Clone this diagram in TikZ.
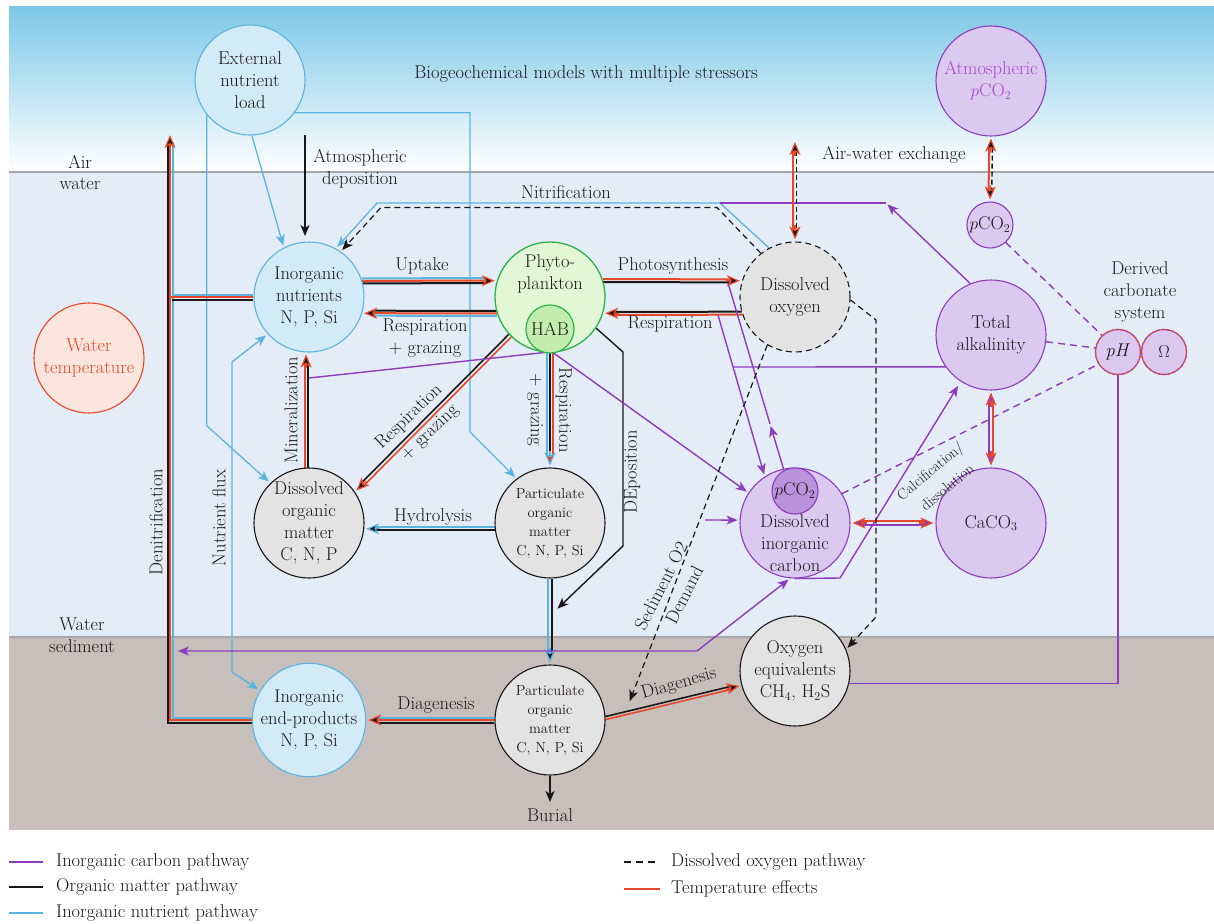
\documentclass[tikz,border=0pt]{standalone}
\usetikzlibrary{arrows.meta,calc}
\pgfdeclarelayer{bg}
\pgfdeclarelayer{lines}
\pgfsetlayers{bg,lines,main}
\definecolor{skyc}{HTML}{7DC8E7}
\definecolor{waterc}{HTML}{E4ECF7}
\definecolor{sedc}{HTML}{C7BFBC}
\definecolor{sepc}{HTML}{A6A6A6}
\definecolor{nb}{HTML}{5BB4E0}
\definecolor{nfill}{HTML}{D3EAF7}
\definecolor{rd}{HTML}{E8482A}
\definecolor{pu}{HTML}{8E3CBE}
\definecolor{pfill}{HTML}{DCC9F0}
\definecolor{pdark}{HTML}{B993DC}
\definecolor{ptext}{HTML}{A548C9}
\definecolor{gfill}{HTML}{E3E3E3}
\definecolor{grn}{HTML}{2CB34A}
\definecolor{grnfill}{HTML}{E1F7D5}
\definecolor{habfill}{HTML}{C3EDAC}
\definecolor{wtfill}{HTML}{FCE5DC}
\definecolor{blk}{HTML}{1A1718}
\newcommand{\fs}{\fontsize{18.5}{22}\selectfont}
\newcommand{\fss}{\fontsize{14.5}{19}\selectfont}
\newcommand{\fsm}{\fontsize{15}{17}\selectfont}
\newcommand{\offL}[4]{\draw[#1] ($(#2)!#4!90:(#3)$) -- ($(#3)!#4!-90:(#2)$);}
\newcommand{\offR}[4]{\draw[#1] ($(#2)!#4!-90:(#3)$) -- ($(#3)!#4!90:(#2)$);}
\newcommand{\tipto}[3]{\draw[#1] ($(#3)!16pt!(#2)$) -- (#3);}
\begin{document}
\begin{tikzpicture}[x=1pt,y=-1pt,font=\fs,
  every node/.style={text=blk},
  circ/.style={circle,minimum size=110pt,inner sep=0pt,align=center,line width=1.1pt},
  bcirc/.style={circ,draw=nb,fill=nfill},
  gcirc/.style={circ,draw=grn,fill=grnfill,line width=1.3pt},
  habc/.style={circ,draw=grn,fill=habfill,minimum size=48pt,line width=1.2pt},
  docirc/.style={circ,draw=blk,fill=gfill,dash pattern=on 6pt off 4pt},
  pcirc/.style={circ,draw=pu,fill=pfill},
  kcirc/.style={circ,draw=blk,fill=gfill},
  wtcirc/.style={circ,draw=rd,fill=wtfill,text=rd},
  nbl/.style={nb,line width=1.3pt},
  pul/.style={pu,line width=1.4pt},
  bkl/.style={blk,line width=1.4pt},
  ml/.style={line width=2pt},
  sh/.style={shorten >=11pt},
  shb/.style={shorten >=11pt,shorten <=11pt},
  arr/.style={shorten >=2pt,-{Stealth[length=11pt,width=9pt,inset=3pt]}},
  arrb/.style={shorten >=2pt,shorten <=2pt,{Stealth[length=11pt,width=9pt,inset=3pt]}-{Stealth[length=11pt,width=9pt,inset=3pt]}},
  tipRK/.style={rd,line width=1.2pt,shorten >=2pt,-{Stealth[length=13pt,width=11pt,inset=3.5pt,fill=blk]}},
  tipBK/.style={nb,line width=1.2pt,shorten >=2pt,-{Stealth[length=13pt,width=11pt,inset=3.5pt,fill=blk]}},
  tipBR/.style={nb,line width=1.2pt,shorten >=2pt,-{Stealth[length=13pt,width=11pt,inset=3.5pt,fill=rd]}},
  tipRP/.style={rd,line width=1.2pt,shorten >=2pt,-{Stealth[length=13pt,width=11pt,inset=3.5pt,fill=pu]}}
]
\useasboundingbox (0,0) rectangle (1214,923);
% ---------- background
\begin{pgfonlayer}{bg}
\shade[top color=skyc,bottom color=white] (9,7) rectangle (1214,172);
\fill[waterc] (9,172) rectangle (1214,637);
\fill[sedc] (9,637) rectangle (1214,830);
\draw[sepc,line width=2pt] (9,172) -- (1214,172);
\draw[sepc,line width=2pt] (9,637) -- (1214,637);
\end{pgfonlayer}
% ---------- nodes
\node[bcirc] (ext) at (250,80) {External\\nutrient\\load};
\node[bcirc] (nut) at (309,297) {Inorganic\\nutrients\\N, P, Si};
\node[gcirc] (phy) at (550,297) {};
\node[align=center] (phyt) at (550,274) {Phyto-\\plankton};
\node[habc] (hab) at (550,329) {HAB};
\node[docirc] (dox) at (795,297) {Dissolved\\oxygen};
\node[pcirc,text=ptext] (atm) at (991,81) {Atmospheric\\$p$CO$_2$};
\node[pcirc,minimum size=46pt] (pco) at (990,225) {$p$CO$_2$};
\node[pcirc] (ta) at (991,335) {Total\\alkalinity};
\node[pcirc] (caco) at (991,523) {CaCO$_3$};
\node[pcirc,minimum size=45pt] (ph) at (1118,352) {\textit{pH}};
\node[pcirc,minimum size=45pt] (om) at (1164,352) {$\Omega$};
\draw[rd,line width=1.4pt,dash pattern=on 2.5pt off 2.5pt] (ph.center) circle[radius=22.5pt];
\draw[rd,line width=1.4pt,dash pattern=on 2.5pt off 2.5pt] (om.center) circle[radius=22.5pt];
\node[pcirc] (dic) at (795,523) {};
\node[pcirc,fill=pdark,minimum size=46pt] (dicp) at (795,491) {$p$CO$_2$};
\node[align=center] (dict) at (795,543) {Dissolved\\inorganic\\carbon};
\node[wtcirc] (wt) at (89,358) {Water\\temperature};
\node[kcirc] (dom) at (309,523) {Dissolved\\organic\\matter\\C, N, P};
\node[kcirc,font=\fss] (pom) at (550,523) {Particulate\\organic\\matter\\C, N, P, Si};
\node[bcirc] (iep) at (309,720) {Inorganic\\end-products\\N, P, Si};
\node[kcirc,font=\fss] (poms) at (550,720) {Particulate\\organic\\matter\\C, N, P, Si};
\node[kcirc] (oxe) at (795,671) {Oxygen\\equivalents\\CH$_4$, H$_2$S};
% ---------- coordinates
\coordinate (ad1) at (305,135);
\coordinate (ad2) at (305,238);
\coordinate (e1) at (207,426);
\coordinate (e2) at (470,432);
\coordinate (n1) at (720,203);
\coordinate (n2) at (377,203);
\coordinate (n3) at (717,207.5);
\coordinate (n4) at (381,207.5);
\coordinate (p1) at (886,203);
\coordinate (d1) at (623,352);
\coordinate (d2) at (623,546);
\coordinate (d3) at (556,610);
\coordinate (bur) at (550,804);
\coordinate (f1) at (232,362);
\coordinate (f2) at (232,672);
\coordinate (m1) at (309,378);
\coordinate (s1) at (705,520);
\coordinate (la) at (718,315);
\coordinate (lb) at (733,367);
\coordinate (lc) at (728,283);
\coordinate (ld) at (770,424);
\coordinate (sp1) at (176,651);
\coordinate (sp2) at (697,651);
\coordinate (dt) at (840,578);
\coordinate (q1) at (876,320);
\coordinate (q2) at (876,617);
\coordinate (sd) at (629,703);
\coordinate (aw1) at (795,140);
\coordinate (dn) at (170,133);
% ---------- connectors
\begin{pgfonlayer}{lines}
% external load
\draw[nbl,arr] (ext.-88) -- (nut.117);
\draw[bkl,arr] (ad1) -- (ad2);
\draw[nbl,arr] (ext.219) |- (e1) -- (dom.134);
\draw[nbl,arr] (ext.-36) -| (e2) -- (pom.127);
% nitrification
\draw[nbl,arr] (dox.118) -- (n1) -- (n2) -- (nut.61);
\draw[blk,line width=1.2pt,dash pattern=on 6pt off 4pt,arr] (dox.128) -- (n3) -- (n4) -- (nut.55);
\draw[pul] (n1) -- (p1);
\draw[pul,arr] (ta.112) -- (p1);
% uptake
\offL{ml,nb,sh}{nut.17}{phy.163}{2.5pt}
\draw[ml,rd,sh] (nut.17) -- (phy.163);
\offR{ml,blk,sh}{nut.17}{phy.163}{2.5pt}
\tipto{tipRK}{nut.17}{phy.163}
% respiration + grazing to nutrients
\offR{ml,blk,sh}{phy.197}{nut.-17}{2.5pt}
\draw[ml,rd,sh] (phy.197) -- (nut.-17);
\offL{ml,nb,sh}{phy.197}{nut.-17}{2.5pt}
\tipto{tipRK}{phy.197}{nut.-17}
% photosynthesis
\offL{ml,rd,sh}{phy.17}{dox.163}{1.5pt}
\offR{ml,blk,sh}{phy.17}{dox.163}{1.5pt}
\tipto{tipRK}{phy.17}{dox.163}
% respiration DO -> phyto
\offR{ml,blk,sh}{dox.197}{phy.-17}{1.5pt}
\offL{ml,rd,sh}{dox.197}{phy.-17}{1.5pt}
\tipto{tipRK}{dox.197}{phy.-17}
% mineralization
\offL{ml,rd,sh}{dom.93.6}{nut.-93.6}{1.5pt}
\offR{ml,blk,sh}{dom.93.6}{nut.-93.6}{1.5pt}
\tipto{tipRK}{dom.93.6}{nut.-93.6}
% respiration + grazing diagonal
\offL{line width=1.6pt,rd,sh}{phy.224}{dom.34}{1.8pt}
\offR{line width=1.6pt,blk,sh}{phy.224}{dom.34}{1.8pt}
\tipto{tipRK}{phy.224}{dom.34}
% respiration + grazing vertical
\offL{ml,rd,sh}{phy.-90}{pom.90}{2.7pt}
\draw[ml,blk,sh] (phy.-90) -- (pom.90);
\offR{ml,nb,sh}{phy.-90}{pom.90}{2.7pt}
\tipto{tipBR}{phy.-90}{pom.90}
% hydrolysis
\offR{ml,nb,sh}{pom.186.8}{dom.-6.8}{1.5pt}
\offL{ml,blk,sh}{pom.186.8}{dom.-6.8}{1.5pt}
\tipto{tipBK}{pom.186.8}{dom.-6.8}
% deposition
\draw[bkl,arr] (phy.-34) -- (d1) -- (d2) -- (d3);
% settling to sediment
\offL{ml,blk,sh}{pom.-90}{poms.90}{2pt}
\offR{ml,nb,sh}{pom.-90}{poms.90}{2pt}
\tipto{tipBK}{pom.-90}{poms.90}
% burial
\draw[bkl,arr] (poms.-90) -- (bur);
% diagenesis to end-products
\offR{ml,nb,sh}{poms.180}{iep.0}{2.5pt}
\draw[ml,rd,sh] (poms.180) -- (iep.0);
\offL{ml,blk,sh}{poms.180}{iep.0}{2.5pt}
\tipto{tipRK}{poms.180}{iep.0}
% diagenesis to oxygen equivalents
\offL{line width=1.6pt,blk,sh}{poms.2}{oxe.195}{1.5pt}
\offR{line width=1.6pt,rd,sh}{poms.2}{oxe.195}{1.5pt}
\tipto{tipRK}{poms.2}{oxe.195}
% denitrification
\draw[ml,blk] ([yshift=-2.5pt]iep.west) -| (167.5,142);
\draw[ml,rd] (iep.west) -| (170,142);
\draw[ml,nb] ([yshift=2.5pt]iep.west) -| (172.5,142);
\draw[tipRK] (170,149) -- (dn);
\draw[ml,nb] ([yshift=2.5pt]nut.west) -- ++(-81.5,0);
\draw[ml,rd] (nut.west) -- ++(-84,0);
\draw[ml,blk] ([yshift=-2.5pt]nut.west) -- ++(-81.5,0);
% nutrient flux
\draw[nbl,arrb] (nut.222) -- (f1) -- (f2) -- (iep.149);
% inorganic carbon
\draw[pul,arr] (phy.-87) -- (dic.147);
\draw[pul] (m1) -- (phy.-95);
\draw[pul,arr] (s1) -- (dic.177);
\draw[pul,arr] (la) -- (dic.123);
\draw[pul] (lb) -- (ta.215);
\draw[pul,arr] (dicp.118) -- (ld);
\draw[pul] (ld) -- (lc);
\draw[pul,arrb] (sp1) -- (sp2) -- (dic.-95);
\draw[pul,arr,shorten >=5pt] (dic.-90) -- (dt) -- (ta.237);
\draw[pul] (ph.-90) |- (oxe.-13);
\draw[pul,dash pattern=on 7pt off 5pt] (pco.-48) -- (ph.134);
\draw[pul,dash pattern=on 7pt off 5pt] (ta.-7) -- (ph.170);
\draw[pul,dash pattern=on 7pt off 5pt] (dic.32) -- (ph.212);
% TA <-> CaCO3, DIC <-> CaCO3
\offL{ml,rd,shb}{ta.-90}{caco.90}{1.8pt}
\offR{ml,pu,shb}{ta.-90}{caco.90}{1.8pt}
\tipto{tipRP}{ta.-90}{caco.90}
\tipto{tipRP}{caco.90}{ta.-90}
\offL{ml,rd,shb}{dic.0}{caco.180}{1.8pt}
\offR{ml,pu,shb}{dic.0}{caco.180}{1.8pt}
\tipto{tipRP}{dic.0}{caco.180}
\tipto{tipRP}{caco.180}{dic.0}
% air-water exchange
\offL{line width=1.4pt,blk,dash pattern=on 5pt off 3pt,shb}{aw1}{dox.90}{1.6pt}
\offR{ml,rd,shb}{aw1}{dox.90}{1.6pt}
\tipto{tipRK}{aw1}{dox.90}
\tipto{tipRK}{dox.90}{aw1}
\offL{line width=1.4pt,blk,dash pattern=on 5pt off 3pt,shb}{atm.-90}{pco.90}{1.6pt}
\offR{ml,rd,shb}{atm.-90}{pco.90}{1.6pt}
\tipto{tipRK}{atm.-90}{pco.90}
\tipto{tipRK}{pco.90}{atm.-90}
% dissolved oxygen pathways
\draw[blk,line width=1.2pt,dash pattern=on 6pt off 4pt,arr] (dox.-3) -- (q1) -- (q2) -- (oxe.23);
\draw[blk,line width=1.2pt,dash pattern=on 6pt off 4pt,arr] (dox.240) -- (sd);
\end{pgfonlayer}
% ---------- labels
\node at (586,74) {Biogeochemical models with multiple stressors};
\node at (80,162) {Air};
\node at (80,184) {water};
\node at (82,624) {Water};
\node at (82,646) {sediment};
\node[align=center] at (360,169) {Atmospheric\\deposition};
\node at (566,192) {Nitrification};
\node at (894,155) {Air-water exchange};
\node at (422,266) {Uptake};
\node[align=center] at (425,338) {Respiration\\+ grazing};
\node at (673,266) {Photosynthesis};
\node at (670,324) {Respiration};
\node[align=center] at (1140,292) {Derived\\carbonate\\system};
\node[rotate=90] at (291,410) {Mineralization};
\node[rotate=44] at (409,417) {Respiration};
\node[rotate=44] at (430,433) {+ grazing};
\node[rotate=-90] at (564,410) {Respiration};
\node[rotate=-90] at (535,410) {+ grazing};
\node[rotate=90] at (632,472) {DEposition};
\node at (433,517) {Hydrolysis};
\node[rotate=90] at (156,522) {Denitrification};
\node[rotate=90] at (219,518) {Nutrient flux};
\node at (436,705) {Diagenesis};
\node[rotate=16] at (679,684) {Diagenesis};
\node[rotate=63] at (661,586) {Sediment O2};
\node[rotate=63] at (684,595) {Demand};
\node[rotate=40,font=\fsm] at (931,472) {Calcification/};
\node[rotate=40,font=\fsm] at (947,487) {dissolution};
\node at (550,815) {Burial};
% ---------- legend
\draw[pul,line width=1.6pt] (9,862) -- (43,862);
\node[anchor=west,inner sep=0pt] at (56,862) {Inorganic carbon pathway};
\draw[bkl,line width=1.6pt] (9,887) -- (43,887);
\node[anchor=west,inner sep=0pt] at (56,887) {Organic matter pathway};
\draw[nbl,line width=1.6pt] (9,913) -- (43,913);
\node[anchor=west,inner sep=0pt] at (56,913) {Inorganic nutrient pathway};
\draw[blk,line width=1.4pt,dash pattern=on 7pt off 5pt] (624,862) -- (660,862);
\node[anchor=west,inner sep=0pt] at (671,862) {Dissolved oxygen pathway};
\draw[rd,line width=1.6pt] (624,889) -- (660,889);
\node[anchor=west,inner sep=0pt] at (671,889) {Temperature effects};
\end{tikzpicture}
\end{document}
